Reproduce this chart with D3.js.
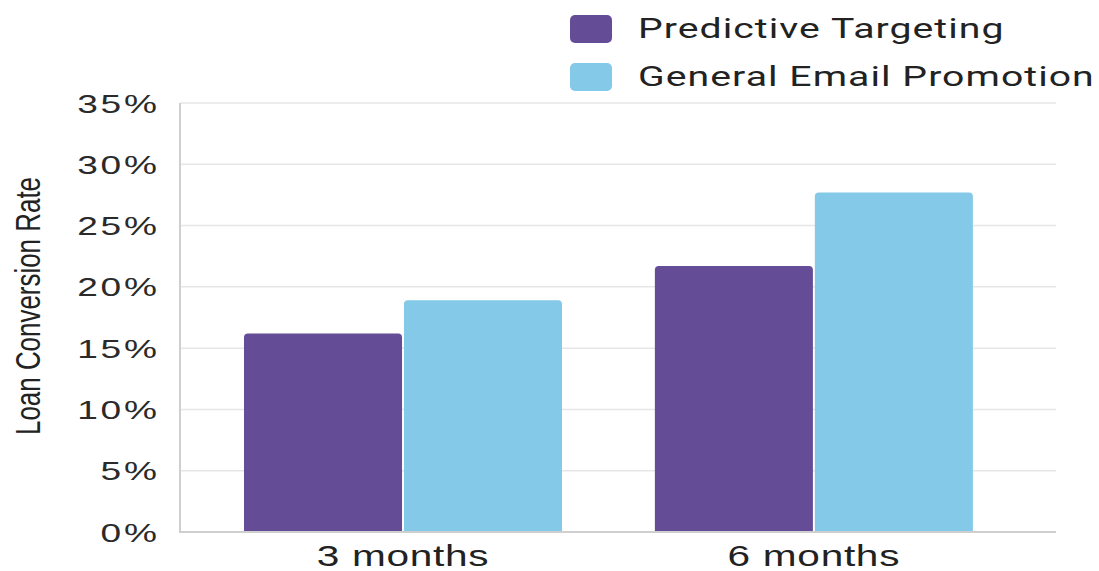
<!DOCTYPE html>
<html>
<head>
<meta charset="utf-8">
<script src="https://cdn.jsdelivr.net/npm/d3@7"></script>
<style>
  html, body { margin: 0; padding: 0; background: #fff; }
  svg { display: block; font-family: "Liberation Sans", Arial, sans-serif; }
</style>
</head>
<body>
<svg id="chart" width="1099" height="571"></svg>
<script>
// Loan conversion rate by campaign type and time window
const periods = ["3 months", "6 months"];
const seriesNames = ["Predictive Targeting", "General Email Promotion"];
const predictiveTargeting = [16.2, 21.7];
const generalEmailPromotion = [18.9, 27.7];
const yTicks = [0, 5, 10, 15, 20, 25, 30, 35];
const yTitle = "Loan Conversion Rate";

const colors = ["#654c96", "#84c9e8"];
const seriesValues = [predictiveTargeting, generalEmailPromotion];

const svg = d3.select("#chart");
const plot = { left: 180, right: 1056, top: 103, bottom: 532 };
const sx = 1.4; // horizontal text stretch

const y = d3.scaleLinear().domain([0, 35]).range([plot.bottom, plot.top]);
const x0 = d3.scaleBand().domain(periods).range([plot.left, plot.right])
  .paddingInner(0.226).paddingOuter(0.179).align(0.435);
const x1 = d3.scaleBand().domain(seriesNames).range([0, x0.bandwidth()]).paddingInner(0.012);

// gridlines
svg.append("g").selectAll("line").data(yTicks.filter(d => d > 0)).join("line")
  .attr("x1", plot.left).attr("x2", plot.right)
  .attr("y1", d => y(d)).attr("y2", d => y(d))
  .attr("stroke", "#e6e6e6").attr("stroke-width", 1.5);

// bars with rounded tops
function topRounded(x, yTop, w, h, r) {
  return `M${x},${yTop + h}V${yTop + r}Q${x},${yTop} ${x + r},${yTop}H${x + w - r}Q${x + w},${yTop} ${x + w},${yTop + r}V${yTop + h}Z`;
}
const groups = svg.append("g").selectAll("g").data(periods).join("g")
  .attr("transform", d => `translate(${x0(d)},0)`);
groups.selectAll("path")
  .data((p, i) => seriesNames.map((s, k) => ({ s, v: seriesValues[k][i], k })))
  .join("path")
  .attr("d", d => topRounded(x1(d.s), y(d.v), x1.bandwidth(), y(0) - y(d.v), 4))
  .attr("fill", d => colors[d.k]);

// axis lines
svg.append("line").attr("x1", plot.left).attr("x2", plot.left)
  .attr("y1", plot.top).attr("y2", plot.bottom + 1)
  .attr("stroke", "#cfcfcf").attr("stroke-width", 2);
svg.append("line").attr("x1", plot.left).attr("x2", plot.right)
  .attr("y1", plot.bottom).attr("y2", plot.bottom)
  .attr("stroke", "#cfcfcf").attr("stroke-width", 2);

// y tick labels
const tickSpacing = 2;
svg.append("g").selectAll("text").data(yTicks).join("text")
  .attr("transform", d => `translate(${157 + tickSpacing * sx},${y(d)}) scale(${sx},1)`)
  .attr("text-anchor", "end").attr("dy", "0.36em")
  .attr("font-size", 26.5).attr("letter-spacing", tickSpacing).attr("fill", "#2a2a2a")
  .text(d => d + "%");

// x labels
svg.append("g").selectAll("text").data(periods).join("text")
  .attr("transform", d => `translate(${x0(d) + x0.bandwidth() / 2},566) scale(${sx},1)`)
  .attr("text-anchor", "middle")
  .attr("font-size", 29).attr("letter-spacing", 0.5).attr("fill", "#222")
  .text(d => d);

// y title
svg.append("text")
  .attr("transform", `translate(40,306) scale(${sx},1) rotate(-90)`)
  .attr("text-anchor", "middle")
  .attr("font-size", 25).attr("fill", "#222")
  .attr("textLength", 258).attr("lengthAdjust", "spacingAndGlyphs")
  .text(yTitle);

// legend
const legend = svg.append("g").selectAll("g").data(seriesNames).join("g")
  .attr("transform", (d, i) => `translate(570,${15 + i * 48})`);
legend.append("rect").attr("width", 42).attr("height", 28).attr("rx", 5)
  .attr("fill", (d, i) => colors[i]);
legend.append("text")
  .attr("transform", `translate(68,23) scale(${sx},1)`)
  .attr("font-family", "Roboto, 'Liberation Sans', sans-serif")
  .attr("font-size", 28).attr("letter-spacing", 0.75).attr("fill", "#222")
  .text(d => d);
</script>
</body>
</html>
